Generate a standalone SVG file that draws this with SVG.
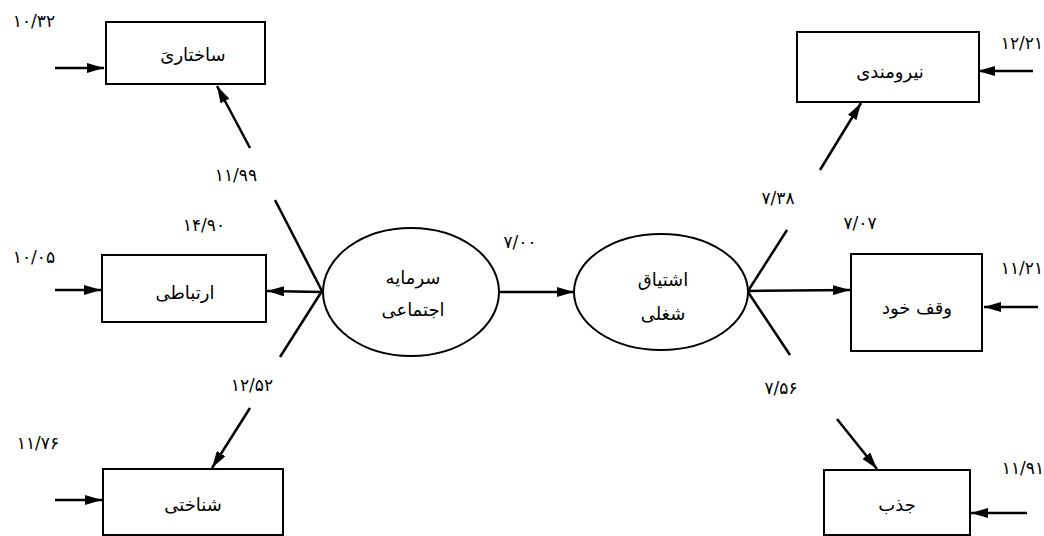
<svg xmlns="http://www.w3.org/2000/svg" width="1044" height="536" viewBox="0 0 1044 536">
<style>
.box{fill:#fff;stroke:#000;stroke-width:2}
.ell{fill:#fff;stroke:#000;stroke-width:2}
.t{font-family:"DejaVu Sans","Noto Sans",sans-serif;font-size:18px;fill:#000;text-anchor:middle}
.n{font-family:"DejaVu Sans","Noto Sans",sans-serif;font-size:17px;fill:#000;text-anchor:middle}
.ln{stroke:#000;stroke-width:2.5;fill:none}
.ar{stroke:#000;stroke-width:2.5;fill:none;marker-end:url(#ah)}
</style>
<defs>
<marker id="ah" markerUnits="userSpaceOnUse" markerWidth="18" markerHeight="10" refX="17" refY="5" orient="auto">
<path d="M0,0 L17,5 L0,10 z" fill="#000"/>
</marker>
</defs>
<rect width="1044" height="536" fill="#fff"/>
<g id="connectors">
<line class="ar" x1="55" y1="68" x2="104" y2="68"/>
<line class="ar" x1="250" y1="148" x2="217" y2="86"/>
<line class="ln" x1="275" y1="200" x2="322" y2="291"/>
<line class="ln" x1="322" y1="291" x2="280" y2="357"/>
<line class="ar" x1="322" y1="292" x2="267" y2="291"/>
<line class="ar" x1="55" y1="290" x2="101" y2="290"/>
<line class="ar" x1="250" y1="408" x2="212" y2="468"/>
<line class="ar" x1="55" y1="500" x2="102" y2="500"/>
<line class="ar" x1="500" y1="292" x2="574" y2="292"/>
<line class="ln" x1="748" y1="291" x2="787" y2="230"/>
<line class="ln" x1="748" y1="292" x2="790" y2="355"/>
<line class="ar" x1="748" y1="291" x2="850" y2="290"/>
<line class="ar" x1="820" y1="170" x2="861" y2="103"/>
<line class="ar" x1="1033" y1="71" x2="978" y2="71"/>
<line class="ar" x1="1038" y1="307" x2="984" y2="307"/>
<line class="ar" x1="837" y1="419" x2="877" y2="469"/>
<line class="ar" x1="1027" y1="513" x2="971" y2="513"/>
</g>
<g id="n_sakhtari">
<rect class="box" x="106" y="22" width="159" height="62"/>
<text class="t" x="193" y="61">ساختاریَ</text>
</g>
<g id="n_ertebati">
<rect class="box" x="102" y="255" width="164" height="67"/>
<text class="t" x="185" y="299">ارتباطی</text>
</g>
<g id="n_shenakhti">
<rect class="box" x="103" y="469" width="180" height="66"/>
<text class="t" x="193" y="511">شناختی</text>
</g>
<g id="n_sarmaye">
<ellipse class="ell" cx="411" cy="292" rx="88" ry="64"/>
<text class="t" x="413" y="284">سرمایه</text>
<text class="t" x="413" y="316">اجتماعی</text>
</g>
<g id="n_eshtiagh">
<ellipse class="ell" cx="661" cy="292" rx="87" ry="58"/>
<text class="t" x="663" y="286">اشتیاق</text>
<text class="t" x="663" y="320">شغلی</text>
</g>
<g id="n_niroomandi">
<rect class="box" x="797" y="32" width="182" height="70"/>
<text class="t" x="890" y="78">نیرومندی</text>
</g>
<g id="n_vaghf">
<rect class="box" x="851" y="254" width="131" height="97"/>
<text class="t" x="917" y="314">وقف خود</text>
</g>
<g id="n_jazb">
<rect class="box" x="824" y="470" width="146" height="65"/>
<text class="t" x="897" y="511">جذب</text>
</g>
<g id="labels">
<text class="n" x="34" y="27">۱۰/۳۲</text>
<text class="n" x="236" y="181">۱۱/۹۹</text>
<text class="n" x="204" y="231">۱۴/۹۰</text>
<text class="n" x="34" y="263">۱۰/۰۵</text>
<text class="n" x="252" y="391">۱۲/۵۲</text>
<text class="n" x="38" y="449">۱۱/۷۶</text>
<text class="n" x="520" y="248">۷/۰۰</text>
<text class="n" x="778" y="204">۷/۳۸</text>
<text class="n" x="860" y="229">۷/۰۷</text>
<text class="n" x="781" y="394">۷/۵۶</text>
<text class="n" x="1022" y="49">۱۲/۲۱</text>
<text class="n" x="1022" y="274">۱۱/۲۱</text>
<text class="n" x="1023" y="474">۱۱/۹۱</text>
</g>
</svg>
